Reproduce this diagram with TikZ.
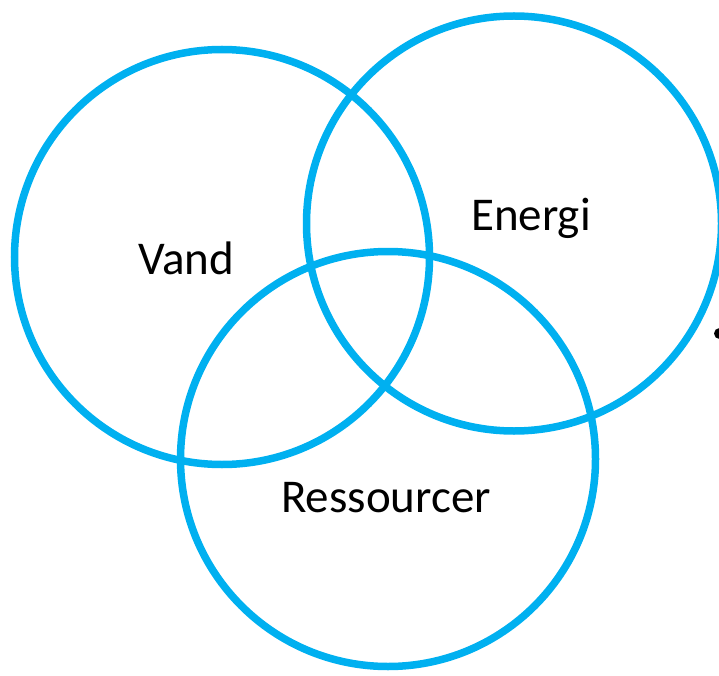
\documentclass[tikz,border=0pt]{standalone}
\usepackage{fontspec}
\setmainfont{Carlito}
\usepackage{tikz}
\usetikzlibrary{positioning}
\definecolor{ringblue}{HTML}{00B0F0}

\begin{document}
\begin{tikzpicture}[x=1pt,y=-1pt,
      ring/.style={circle,draw=ringblue,line width=7.5pt,minimum size=415pt,inner sep=0pt},
      word/.style={font=\fontsize{47}{50}\selectfont,inner sep=0pt}]
      \useasboundingbox (0,0) rectangle (719,676);
      \node[ring] (vand) at (222,257) {};
      \node[ring] (energi) at (514,223.5) {};
      \node[ring] (ress) at (388,459) {};
      \node[word] (tv) at (186,258) {Vand};
      \node[word] (te) at (531,218) {Energi};
      \node[word] (tr) at (386,498) {Ressourcer};
      \node[circle,fill=black,inner sep=0pt,minimum size=11pt] (dot) at (719.5,333.5) {};
\end{tikzpicture}
\end{document}
